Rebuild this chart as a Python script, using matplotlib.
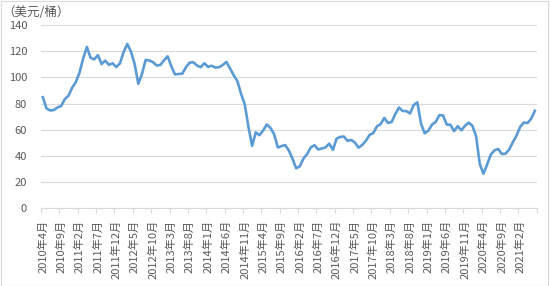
import numpy as np
import matplotlib.pyplot as plt
from matplotlib.patches import Rectangle

plt.rcParams['font.family'] = ['Noto Sans CJK SC', 'DejaVu Sans']

#%% 数据：月均油价（美元/桶），2010年4月 - 2021年6月
start_year, start_month = 2010, 4
price = [
    # 2010 (4-12月)
    84.9, 76.3, 74.8, 75.1, 77.1, 78.2, 83.5, 86.1, 92.2,
    # 2011
    96.5, 103.7, 114.6, 123.3, 115.0, 113.8, 117.0, 110.2, 112.8, 109.6, 110.8, 107.9,
    # 2012
    110.7, 119.3, 125.5, 119.8, 110.3, 95.2, 102.6, 113.4, 112.9, 111.7, 109.1, 109.5,
    # 2013
    113.0, 116.1, 108.5, 102.3, 102.6, 102.9, 107.9, 111.3, 111.6, 109.1, 107.8, 110.8,
    # 2014
    108.1, 108.9, 107.5, 107.8, 109.5, 111.8, 106.8, 101.6, 97.1, 87.4, 79.4, 62.3,
    # 2015
    47.8, 58.1, 55.9, 59.5, 64.1, 61.5, 56.6, 46.5, 47.6, 48.4, 44.3, 38.0,
    # 2016
    30.7, 32.2, 38.2, 41.6, 46.7, 48.3, 45.0, 45.8, 46.6, 49.5, 44.7, 53.3,
    # 2017
    54.6, 54.9, 51.6, 52.3, 50.3, 46.4, 48.5, 51.7, 56.2, 57.5, 62.7, 64.4,
    # 2018
    69.1, 65.3, 66.0, 72.1, 77.0, 74.4, 74.3, 72.5, 78.9, 81.0, 64.8, 57.4,
    # 2019
    59.4, 64.0, 66.1, 71.2, 71.0, 64.0, 63.9, 59.0, 62.8, 59.7, 63.2, 65.5,
    # 2020
    63.0, 55.3, 34.0, 26.5, 33.5, 41.1, 44.4, 45.4, 41.6, 41.8, 44.9, 50.5,
    # 2021 (1-6月)
    55.5, 62.3, 65.6, 65.2, 68.5, 74.5,
]

labels = []
for i in range(len(price)):
    m = start_month - 1 + i
    labels.append('{}年{}月'.format(start_year + m // 12, m % 12 + 1))

x = np.arange(len(price))
label_pos = x[::5]
tick_pos = np.arange(-0.5, len(price), 5)

#%% 图
grey = '#595959'
fig = plt.figure(figsize=(5.51, 2.86), dpi=100)
ax = fig.add_axes([0.0744, 0.271, 0.8996, 0.6416])

ax.plot(x, price, color='#5b9bd5', lw=1.9, solid_joinstyle='round', zorder=3)

ax.set_xlim(-0.5, len(price) - 0.5)
ax.set_ylim(0, 140)
ax.set_yticks(range(0, 141, 20))
ax.grid(axis='y', color='#d9d9d9', lw=0.8)
ax.set_axisbelow(True)

for s in ['top', 'right', 'left']:
    ax.spines[s].set_visible(False)
ax.spines['bottom'].set_color('#d9d9d9')
ax.spines['bottom'].set_linewidth(0.8)

ax.set_xticks(tick_pos)
ax.set_xticklabels([])
ax.tick_params(axis='x', which='major', length=3.5, color='#d9d9d9', width=0.8)
ax.set_xticks(label_pos, minor=True)
ax.set_xticklabels(labels[::5], minor=True, rotation=90, va='top', ha='center')
ax.tick_params(axis='x', which='minor', length=0, pad=8, labelsize=8, labelcolor=grey)
ax.tick_params(axis='y', length=0, pad=10, labelsize=8, labelcolor=grey)

fig.text(0.004, 0.958, '（美元/桶）', fontsize=9, color=grey, va='center', ha='left')

fig.patches.append(Rectangle((1 / 551, 0.5 / 286), 547 / 551, 284.5 / 286,
                             transform=fig.transFigure, fill=False,
                             edgecolor='#d9d9d9', lw=0.8))

plt.savefig('out.png', dpi=100)
